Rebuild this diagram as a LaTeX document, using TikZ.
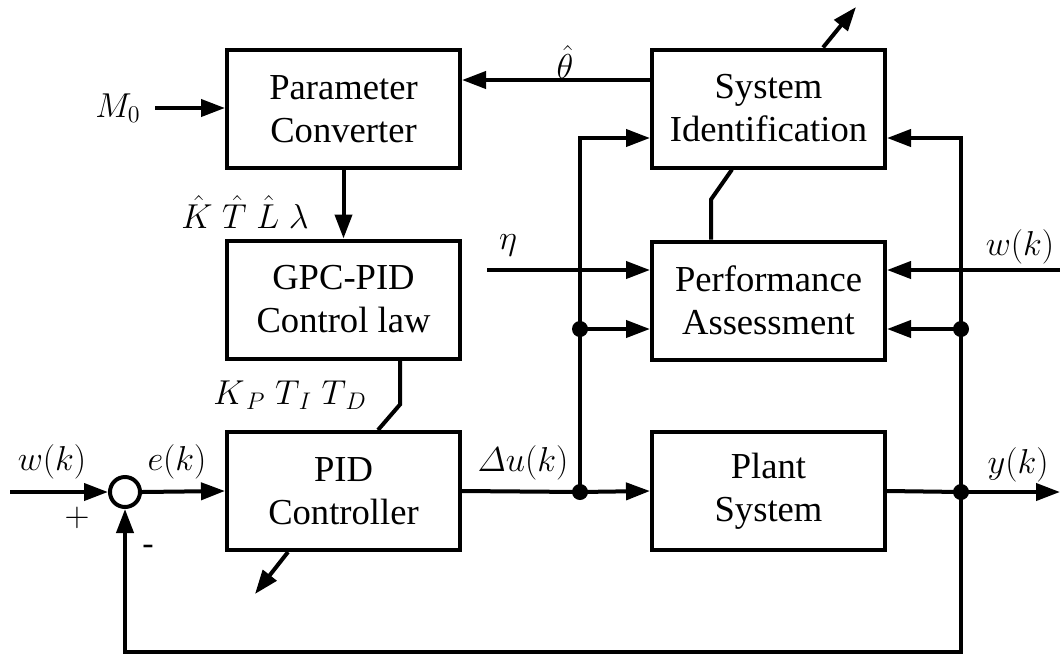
\documentclass[tikz,border=0pt]{standalone}
\usepackage{amsmath}
\usepackage{fontspec}
\setmainfont{Liberation Serif}
\usetikzlibrary{arrows.meta,calc}
\begin{document}
\begin{tikzpicture}[x=0.5pt,y=-0.5pt,
  every node/.style={font=\fontsize{17}{21.5}\selectfont},
  blk/.style={draw,line width=2pt,minimum width=116.5pt,minimum height=59pt,align=center,inner sep=0pt,
    font=\fontsize{18.3}{21.5}\selectfont},
  wire/.style={line width=2pt},
  arr/.style={wire,-{Triangle[length=12pt,width=8.5pt]}},
  dot/.style={circle,fill,inner sep=0pt,minimum size=8pt},
  lbl/.style={inner sep=0pt}]
\useasboundingbox (0,0) rectangle (1060,654);

% blocks
\node[blk] (pc)  at (343.5,109)   {Parameter\\Converter};
\node[blk] (gpc) at (343.5,299.5) {GPC-PID\\Control law};
\node[blk] (pid) at (343.5,491)   {PID\\Controller};
\node[blk] (si)  at (768.5,108.5) {System\\Identification};
\node[blk] (pa)  at (768.5,300.5) {Performance\\Assessment};
\node[blk] (pl)  at (768.5,491)   {Plant\\System};
\node[draw,circle,line width=2pt,minimum size=15pt,inner sep=0pt] (sum) at (125,492) {};

% junctions and free ends
\node[dot] (j1) at (580,492) {};
\node[dot] (j2) at (961,492) {};
\node[dot] (d1) at (580,329) {};
\node[dot] (d2) at (961,329) {};
\coordinate (win)  at (10,492);
\coordinate (yout) at (1060,492);
\coordinate (m0s)  at (155,108);
\coordinate (etas) at (487,270);
\coordinate (wks)  at (1060,270);
\coordinate (fbc)  at (961,652);
\coordinate (siout) at (856,7);
\coordinate (pidout) at (255,594);

% labels
\node[lbl] (m0)  at (118,108) {$M_0$};
\node[lbl] (th)  at (565,62)  {$\hat\theta$};
\node[lbl] (ktl) at (245,212) {$\hat K\;\hat T\;\hat L\;\lambda$};
\node[lbl] (kpt) at (290,395) {$K_{\,P}\;T_{\,I}\;T_{\,D}$};
\node[lbl] (eta) at (508,245) {$\eta$};
\node[lbl] (wk2) at (1020,247) {$w(k)$};
\node[lbl] (wk1) at (52,462)  {$w(k)$};
\node[lbl] (ek)  at (177,462) {$e(k)$};
\node[lbl] (du)  at (523,463) {$\varDelta u(k)$};
\node[lbl] (yk)  at (1018,465) {$y(k)$};
\node[lbl] (pl1) at (77,518)  {$+$};
\node[lbl] (mi1) at (148,550) {-};

% forward path
\draw[arr] (win) -- (sum.west);
\draw[arr] (sum.east) -- (pid.west);
\draw[wire] (pid.east) -- (j1.center);
\draw[arr] (j1.center) -- (pl.west);
\draw[wire] (pl.east) -- (j2.center);
\draw[arr] (j2.center) -- (yout);

% feedback
\draw[arr] (j2.center) -- (fbc) -| (sum.south);

% tuning chain
\draw[arr] (m0s) -- (m0s -| pc.west);
\draw[arr] (pc.south) -- (gpc.north);
\draw[wire] ([xshift=28.25pt]gpc.south) -- ++(0,44) -- ([xshift=17.25pt]pid.north);
\draw[arr] ([xshift=-27.75pt]pid.south) -- (pidout);
\draw[arr] ([yshift=14.25pt]si.west) -- ([yshift=14.25pt]si.west -| pc.east);

% identification and assessment inputs
\draw[arr] (j1.center) -- (d1.center) |- ([yshift=-14.75pt]si.west);
\draw[arr] (d1.center) -- ([yshift=-14.25pt]pa.west);
\draw[arr] (etas) -- (etas -| pa.west);
\draw[arr] (j2.center) -- (d2.center) |- ([yshift=-14.75pt]si.east);
\draw[arr] (d2.center) -- ([yshift=-14.25pt]pa.east);
\draw[arr] (wks) -- (wks -| pa.east);

% links around system identification
\draw[arr] ([xshift=27.25pt]si.north) -- (siout);
\draw[wire] ([xshift=-18.25pt]si.south) -- ++(-21,30) -- ([xshift=-28.75pt]pa.north);
\end{tikzpicture}
\end{document}
